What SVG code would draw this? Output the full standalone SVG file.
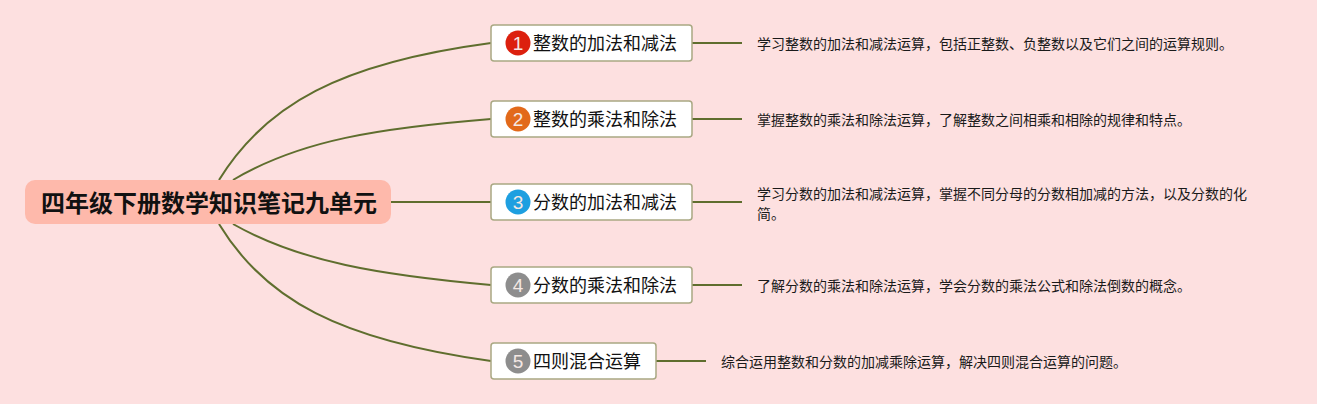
<svg xmlns="http://www.w3.org/2000/svg" width="1317" height="404" viewBox="0 0 1317 404">
<style>
text{font-family:"Noto Sans CJK SC","Liberation Sans",sans-serif;fill:#111}
.box{fill:#fff;stroke:#a9a883;stroke-width:1.5}
.c{fill:none;stroke:#5f6e2e;stroke-width:2}
.t{font-size:18px}
.d{font-size:14px;fill:#1a1a1a}
.n{font-size:19px;fill:#f4e8e4;text-anchor:middle;font-family:"Liberation Sans",sans-serif}
</style>
<rect width="1317" height="404" fill="#fde0e0"/>
<g id="connectors">
<path class="c" d="M219 180C265 105 340 63 491 43"/>
<path class="c" d="M233 180C300 140 380 128 491 119"/>
<path class="c" d="M390 202H491"/>
<path class="c" d="M233 224C300 262 380 275 491 285"/>
<path class="c" d="M219 224C265 300 340 340 491 361"/>
<path class="c" d="M692 43H742"/>
<path class="c" d="M692 119H742"/>
<path class="c" d="M692 202H742"/>
<path class="c" d="M692 285H742"/>
<path class="c" d="M656 361H706"/>
</g>
<g id="root">
<rect x="25" y="180" width="366" height="44" rx="10" fill="#feb9ab"/>
<text x="41" y="212" font-size="24" font-weight="700" fill="#000">四年级下册数学知识笔记九单元</text>
</g>
<g id="n1">
<rect class="box" x="491" y="25" width="201" height="36" rx="3"/>
<circle cx="518" cy="43" r="12.5" fill="#dc200e"/><text class="n" x="518" y="50">1</text>
<text class="t" x="533" y="50">整数的加法和减法</text>
</g>
<g id="n2">
<rect class="box" x="491" y="101" width="201" height="36" rx="3"/>
<circle cx="518" cy="119" r="12.5" fill="#e2691a"/><text class="n" x="518" y="126">2</text>
<text class="t" x="533" y="126">整数的乘法和除法</text>
</g>
<g id="n3">
<rect class="box" x="491" y="184" width="201" height="36" rx="3"/>
<circle cx="518" cy="202" r="12.5" fill="#1e9fe0"/><text class="n" x="518" y="209">3</text>
<text class="t" x="533" y="209">分数的加法和减法</text>
</g>
<g id="n4">
<rect class="box" x="491" y="267" width="201" height="36" rx="3"/>
<circle cx="518" cy="285" r="12.5" fill="#8d8d8d"/><text class="n" x="518" y="292">4</text>
<text class="t" x="533" y="292">分数的乘法和除法</text>
</g>
<g id="n5">
<rect class="box" x="491" y="343" width="165" height="36" rx="3"/>
<circle cx="518" cy="361" r="12.5" fill="#8d8d8d"/><text class="n" x="518" y="368">5</text>
<text class="t" x="533" y="368">四则混合运算</text>
</g>
<g id="d1"><text class="d" x="757" y="49">学习整数的加法和减法运算，包括正整数、负整数以及它们之间的运算规则。</text></g>
<g id="d2"><text class="d" x="757" y="125">掌握整数的乘法和除法运算，了解整数之间相乘和相除的规律和特点。</text></g>
<g id="d3"><text class="d" x="757" y="199">学习分数的加法和减法运算，掌握不同分母的分数相加减的方法，以及分数的化</text><text class="d" x="757" y="219">简。</text></g>
<g id="d4"><text class="d" x="757" y="291">了解分数的乘法和除法运算，学会分数的乘法公式和除法倒数的概念。</text></g>
<g id="d5"><text class="d" x="721" y="367">综合运用整数和分数的加减乘除运算，解决四则混合运算的问题。</text></g>
</svg>
